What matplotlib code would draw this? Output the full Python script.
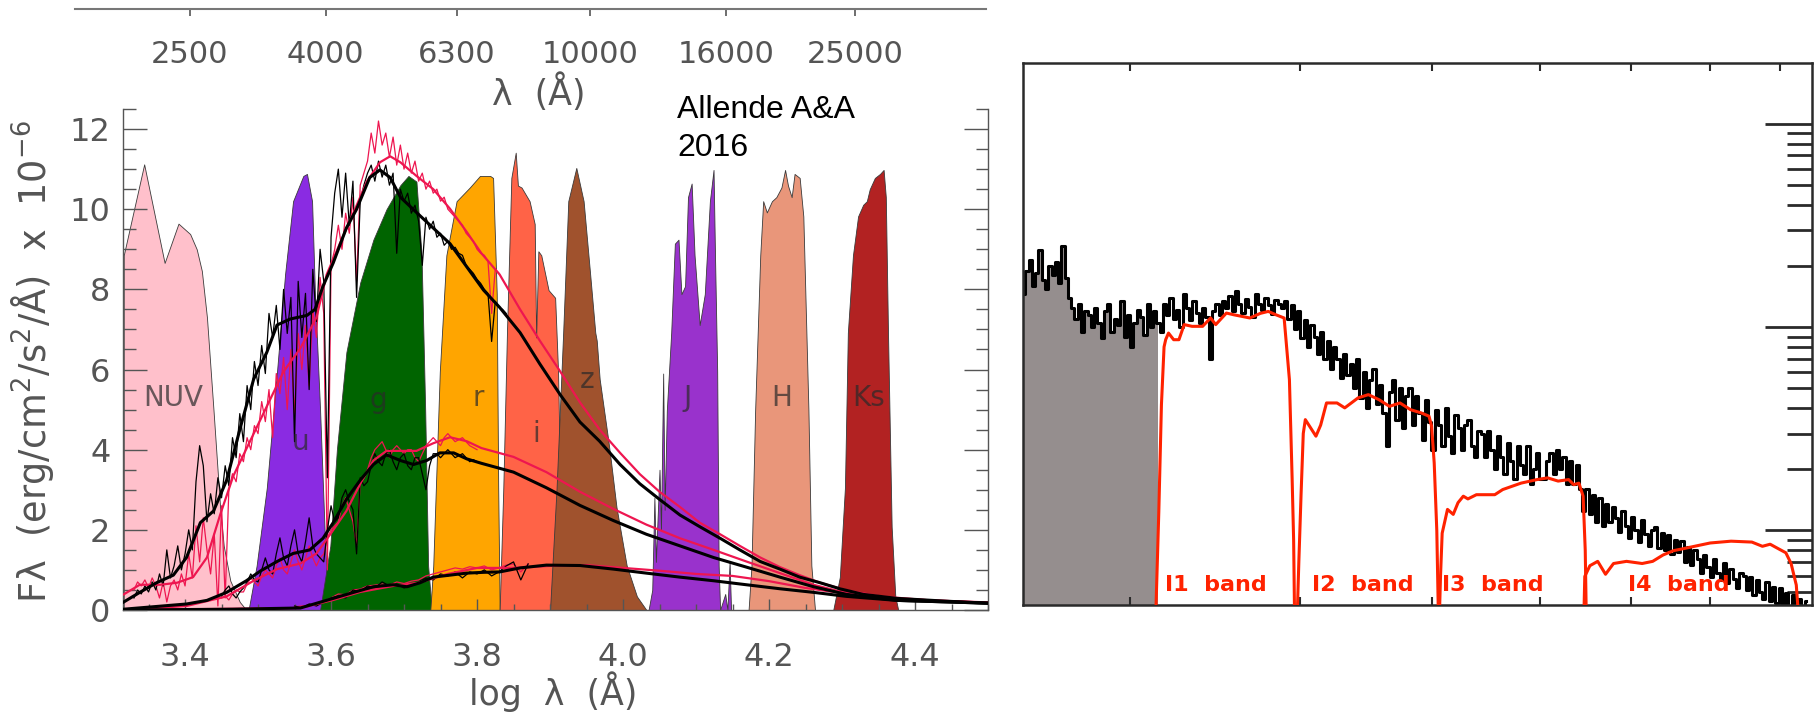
import numpy as np
import matplotlib
matplotlib.use("Agg")
import matplotlib.pyplot as plt
from matplotlib.ticker import (MultipleLocator, FixedLocator, NullLocator,
                               NullFormatter, LogLocator)

W, H = 1819, 713

# ---------------- left panel: broad-band filters (log lambda, scaled response)
NUV_X = [3.316, 3.344, 3.372, 3.391, 3.407, 3.416, 3.423, 3.430, 3.439, 3.448, 3.453, 3.462, 3.475, 3.484]
NUV_Y = [8.85, 11.12, 8.66, 9.64, 9.38, 9.0, 8.46, 7.3, 4.98, 2.57, 1.6, 0.73, 0.2, 0.0]
U_X = [3.487, 3.498, 3.512, 3.526, 3.537, 3.548, 3.562, 3.567, 3.574, 3.578, 3.585, 3.592, 3.596, 3.600]
U_Y = [0.0, 1.1, 3.05, 5.95, 8.37, 10.2, 10.83, 10.88, 10.2, 7.88, 4.98, 1.6, 0.24, 0.0]
G_X = [3.585, 3.599, 3.608, 3.621, 3.640, 3.658, 3.676, 3.695, 3.706, 3.717, 3.724, 3.729, 3.733, 3.738]
G_Y = [0.0, 1.6, 4.0, 6.43, 8.17, 9.24, 10.0, 10.6, 10.83, 10.69, 8.85, 4.98, 1.1, 0.0]
R_X = [3.736, 3.740, 3.749, 3.758, 3.772, 3.790, 3.804, 3.818, 3.822, 3.827, 3.829, 3.831]
R_Y = [0.0, 1.1, 5.95, 8.85, 10.2, 10.54, 10.83, 10.83, 10.78, 7.88, 3.05, 0.0]
I_X = [3.831, 3.836, 3.841, 3.847, 3.853, 3.856, 3.861, 3.872, 3.879, 3.881, 3.884, 3.888, 3.898, 3.907, 3.911, 3.914, 3.916]
I_Y = [0.0, 3.05, 6.92, 10.78, 11.41, 10.59, 10.54, 10.2, 9.63, 6.8, 8.95, 8.85, 7.98, 7.79, 5.95, 3.05, 0.0]
Z_X = [3.900, 3.909, 3.918, 3.925, 3.936, 3.946, 3.955, 3.962, 3.964, 3.968, 3.980, 3.984, 3.991, 4.005, 4.019, 4.032]
Z_Y = [0.0, 3.05, 6.92, 10.2, 11.03, 10.2, 8.37, 6.92, 6.72, 5.76, 4.21, 3.63, 2.57, 1.11, 0.34, 0.0]
J_X = [4.035, 4.040, 4.043, 4.045, 4.050, 4.052, 4.055, 4.057, 4.060, 4.066, 4.071, 4.076, 4.080,
       4.085, 4.089, 4.094, 4.098, 4.105, 4.112, 4.119, 4.124, 4.126, 4.129, 4.131, 4.133,
       4.140, 4.143, 4.146, 4.148, 4.150]
J_Y = [0.0, 0.5, 2.8, 1.2, 3.5, 2.0, 5.9, 2.5, 4.98, 6.92, 9.14, 9.24, 7.88,
       8.08, 10.3, 10.64, 8.85, 7.11, 7.88, 10.2, 10.98, 8.85, 5.95, 1.11, 0.0,
       0.4, 0.0, 1.2, 0.0, 0.0]
H_X = [4.172, 4.176, 4.181, 4.188, 4.192, 4.197, 4.204, 4.210, 4.217, 4.222, 4.226, 4.231, 4.235, 4.242, 4.247, 4.254, 4.258, 4.263]
H_Y = [0.0, 1.11, 4.98, 8.85, 10.2, 9.92, 10.2, 10.3, 10.54, 10.98, 10.59, 10.3, 10.88, 10.78, 9.82, 4.98, 1.11, 0.0]
KS_X = [4.288, 4.297, 4.304, 4.308, 4.315, 4.322, 4.329, 4.334, 4.338, 4.345, 4.352, 4.357, 4.360, 4.363, 4.368, 4.373, 4.377]
KS_Y = [0.0, 0.82, 3.05, 6.92, 8.85, 9.82, 10.11, 10.2, 10.5, 10.78, 10.88, 10.98, 10.3, 6.92, 2.08, 0.34, 0.0]

BAND_NAMES = ["NUV", "u", "g", "r", "i", "z", "J", "H", "Ks"]
BAND_COLORS = ["#FFC0CB", "#8A2BE2", "#006400", "#FFA500", "#FF6347",
               "#A0522D", "#9932CC", "#E9967A", "#B22222"]

# ---------------- left panel: model spectra (smooth) and observed spectra (noisy)
UP_BLACK_X = [3.316, 3.338, 3.361, 3.384, 3.402, 3.421, 3.439, 3.457, 3.475, 3.494, 3.512, 3.526, 3.544,
              3.567, 3.578, 3.589, 3.603, 3.621, 3.635, 3.653, 3.667, 3.681, 3.695, 3.717, 3.740, 3.763,
              3.786, 3.809, 3.831, 3.859, 3.886, 3.914, 3.941, 3.968, 3.996, 4.023, 4.050, 4.078, 4.105,
              4.133, 4.160, 4.188, 4.215, 4.242, 4.270, 4.297, 4.329, 4.375, 4.443, 4.500]
UP_BLACK_Y = [0.2, 0.44, 0.68, 0.87, 1.31, 2.18, 2.47, 3.24, 4.5, 5.76, 6.43, 7.11, 7.26,
              7.35, 7.5, 8.08, 8.66, 9.53, 10.0, 10.79, 10.98, 10.79, 10.3, 9.92, 9.53, 9.14,
              8.56, 7.98, 7.55, 6.92, 6.14, 5.37, 4.69, 4.21, 3.63, 3.15, 2.76, 2.37, 2.08,
              1.79, 1.5, 1.21, 1.02, 0.82, 0.68, 0.53, 0.39, 0.29, 0.22, 0.17]
UP_RED_X = [3.316, 3.338, 3.366, 3.389, 3.411, 3.430, 3.448, 3.466, 3.489, 3.512, 3.535, 3.558, 3.580,
            3.594, 3.612, 3.631, 3.649, 3.667, 3.681, 3.695, 3.717, 3.740, 3.763, 3.786, 3.806, 3.831,
            3.859, 3.886, 3.914, 3.941, 3.968, 3.996, 4.023, 4.050, 4.078, 4.105, 4.133, 4.160, 4.188,
            4.215, 4.242, 4.270, 4.306, 4.352, 4.420, 4.500]
UP_RED_Y = [0.39, 0.63, 0.63, 0.68, 0.82, 1.31, 2.37, 3.34, 4.21, 5.08, 5.95, 6.53, 7.3,
            8.37, 9.14, 9.92, 10.69, 11.17, 11.32, 11.17, 10.83, 10.5, 10.01, 9.43, 8.9, 8.37,
            7.5, 6.72, 5.95, 5.18, 4.5, 3.92, 3.39, 2.95, 2.57, 2.18, 1.89, 1.6, 1.31,
            1.07, 0.87, 0.68, 0.49, 0.34, 0.24, 0.19]
MID_BLACK_X = [3.316, 3.402, 3.430, 3.457, 3.484, 3.503, 3.526, 3.548, 3.571, 3.589, 3.603, 3.621, 3.640,
               3.658, 3.676, 3.695, 3.713, 3.731, 3.749, 3.768, 3.786, 3.806, 3.850, 3.895, 3.941, 3.987,
               4.032, 4.078, 4.124, 4.169, 4.215, 4.261, 4.306, 4.375, 4.500]
MID_BLACK_Y = [0.02, 0.15, 0.24, 0.44, 0.73, 0.97, 1.21, 1.41, 1.5, 1.79, 2.18, 2.76, 3.24,
               3.63, 3.87, 3.73, 3.63, 3.73, 3.92, 3.92, 3.77, 3.66, 3.44, 3.05, 2.61, 2.23,
               1.89, 1.6, 1.31, 1.07, 0.82, 0.58, 0.39, 0.24, 0.17]
MID_RED_X = [3.316, 3.402, 3.457, 3.494, 3.526, 3.558, 3.580, 3.599, 3.621, 3.640, 3.658, 3.676, 3.695,
             3.717, 3.740, 3.763, 3.786, 3.806, 3.850, 3.895, 3.941, 3.987, 4.032, 4.078, 4.124, 4.169,
             4.215, 4.261, 4.306, 4.375, 4.500]
MID_RED_Y = [0.0, 0.1, 0.34, 0.73, 1.02, 1.16, 1.41, 1.89, 2.47, 3.15, 3.73, 3.97, 3.97,
             3.97, 4.16, 4.31, 4.21, 4.04, 3.82, 3.44, 2.95, 2.52, 2.13, 1.79, 1.5, 1.21,
             0.92, 0.63, 0.42, 0.26, 0.18]
LOW_BLACK_X = [3.316, 3.466, 3.558, 3.603, 3.631, 3.658, 3.685, 3.704, 3.722, 3.740, 3.763, 3.786, 3.809,
               3.831, 3.859, 3.895, 3.941, 3.987, 4.032, 4.078, 4.124, 4.169, 4.215, 4.261, 4.306, 4.375, 4.500]
LOW_BLACK_Y = [0.0, 0.02, 0.05, 0.29, 0.44, 0.58, 0.63, 0.58, 0.68, 0.82, 0.87, 0.92, 0.94,
               0.95, 1.05, 1.12, 1.11, 1.02, 0.92, 0.82, 0.73, 0.63, 0.53, 0.44, 0.34, 0.24, 0.17]
LOW_RED_X = [3.316, 3.558, 3.603, 3.640, 3.685, 3.720, 3.760, 3.800, 3.850, 3.900, 3.950, 4.000,
             4.050, 4.100, 4.150, 4.200, 4.250, 4.300, 4.375, 4.500]
LOW_RED_Y = [0.0, 0.05, 0.25, 0.45, 0.6, 0.68, 0.9, 1.05, 1.05, 1.1, 1.12, 1.05,
             0.98, 0.9, 0.85, 0.72, 0.55, 0.42, 0.28, 0.18]

# observed spectra, sampled on a regular log-lambda step from the given start
UP_OBS_START, UP_OBS_STEP = 3.330, 0.005
UP_OBS_BLACK = [0.3, 0.5, 0.4, 0.6, 0.45, 0.7, 0.5, 0.9, 0.6, 1.5, 0.8, 1.1, 1.6, 1.0, 1.4, 2.0, 1.5, 3.2,
                4.1, 3.6, 2.2, 2.9, 2.4, 3.3, 2.8, 3.6, 3.1, 4.3, 3.8, 4.9, 4.2, 5.6, 5.0, 6.2, 5.6, 6.6,
                5.9, 7.4, 6.8, 7.6, 6.5, 8.0, 6.9, 7.8, 4.2, 8.2, 6.8, 7.9, 5.5, 8.5, 7.2, 9.0, 8.2, 3.3,
                9.3, 10.4, 11.0, 9.8, 10.9, 9.6, 10.7, 7.8, 10.2, 10.6, 10.9, 11.1, 10.7, 11.2, 10.8, 11.1,
                10.6, 10.9, 8.9, 10.5, 10.2, 10.4, 9.9, 10.1, 9.7, 8.6, 9.8, 9.5, 9.7, 9.3, 9.4, 9.1,
                9.2, 9.0, 9.05, 8.9, 8.85, 8.6, 8.5, 8.4, 8.25, 8.15, 8.0, 7.9, 6.7, 7.7, 7.55, 7.5, 7.4]
UP_OBS_RED = [0.5, 0.7, 0.6, 0.75, 0.55, 0.8, 0.6, 0.3, 0.7, 0.2, 0.6, 0.75, 0.5, 0.9, 0.6, 1.4, 0.8, 2.1,
              1.2, 2.3, 1.5, 0.9, 1.9, 0.1, 2.6, 0.3, 3.0, 3.4, 3.2, 3.9, 3.7, 4.3, 4.0, 4.6, 4.4, 5.2,
              4.7, 5.5, 4.3, 5.9, 5.4, 6.3, 5.0, 6.5, 4.9, 6.9, 6.0, 7.1, 5.6, 7.5, 6.8, 8.3, 7.4, 1.0,
              8.6, 9.0, 9.6, 9.0, 9.9, 9.4, 10.3, 8.2, 10.6, 10.9, 11.2, 11.9, 11.4, 12.2, 11.6, 11.9,
              11.3, 11.8, 11.1, 11.6, 11.0, 11.4, 10.9, 11.2, 10.7, 10.9, 10.5, 10.7, 10.4, 10.5, 10.2,
              10.3, 10.0, 9.9, 9.8, 9.7, 9.6, 9.4, 9.3, 9.2, 9.0, 8.9, 8.85, 8.7, 7.4, 8.5, 8.4]
MID_OBS_START, MID_OBS_STEP = 3.450, 0.005
MID_OBS_BLACK = [0.35, 0.5, 0.6, 0.4, 0.3, 0.45, 0.55, 0.7, 0.9, 0.75, 0.7, 1.0, 1.3, 1.0, 0.9, 1.4,
                 1.8, 1.3, 1.1, 1.6, 2.0, 1.4, 1.2, 1.7, 2.3, 1.6, 1.4, 1.3, 1.2, 2.0, 2.6, 2.2,
                 2.3, 2.8, 3.0, 2.7, 2.5, 1.4, 3.3, 3.1, 3.2, 3.6, 3.9, 3.7, 3.6, 3.9, 4.0, 3.7,
                 3.5, 3.8, 3.9, 3.6, 3.5, 3.8, 3.8, 3.4, 3.0, 3.6, 3.9, 3.9, 3.8, 3.9, 4.0, 3.9,
                 3.8, 3.85, 3.9, 3.8, 3.7, 3.75, 3.7]
MID_OBS_RED = [0.3, 0.35, 0.25, 0.4, 0.5, 0.45, 0.45, 0.65, 0.8, 0.7, 0.6, 0.85, 1.0, 0.9, 0.8, 1.1,
               1.3, 1.0, 0.9, 1.2, 1.5, 1.2, 1.0, 1.3, 1.6, 1.3, 1.1, 1.3, 1.4, 1.8, 2.0, 2.1,
               2.2, 2.6, 2.8, 2.5, 2.2, 1.6, 3.2, 3.3, 3.5, 3.8, 4.0, 4.1, 4.2, 4.0, 3.8, 4.0,
               4.1, 4.0, 3.9, 4.0, 4.0, 3.8, 3.7, 3.9, 4.1, 4.2, 4.3, 4.2, 4.1, 4.3, 4.4, 4.3,
               4.2, 4.25, 4.3, 4.2, 4.1, 4.05, 4.0]
LOW_OBS_START, LOW_OBS_STEP = 3.550, 0.01
LOW_OBS_BLACK = [0.1, 0.05, 0.15, 0.1, 0.2, 0.3, 0.35, 0.3, 0.5, 0.45, 0.6, 0.55, 0.7, 0.6, 0.65, 0.55,
                 0.6, 0.7, 0.8, 0.75, 0.9, 0.85, 0.95, 0.8, 0.95, 0.9, 1.0, 0.85, 0.95, 1.1, 1.2, 0.75, 1.15]
LOW_OBS_RED = [0.08, 0.1, 0.12, 0.15, 0.22, 0.3, 0.4, 0.38, 0.5, 0.52, 0.6, 0.62, 0.65, 0.62, 0.7, 0.66,
               0.72, 0.75, 0.85, 0.9, 0.95, 1.0, 1.05, 1.02, 1.08, 1.05, 1.1, 1.0, 1.05, 1.12, 1.15, 0.95, 1.15]

TOP_WAVES = [2500, 4000, 6300, 10000, 16000, 25000]

# ---------------- right panel: IR spectrum (log-spaced samples) and IRAC responses (microns)
IR_FLUX = [
    1.45, 1.90, 2.15, 1.60, 1.85, 2.40, 1.70, 1.55, 2.00, 1.80, 2.10, 1.65, 2.50, 1.75, 1.40, 1.25, 1.10, 1.30, 0.95, 1.20,
    1.15, 1.00, 1.25, 1.05, 0.88, 1.20, 1.30, 0.95, 1.10, 1.02, 1.35, 0.90, 1.15, 0.80, 1.05, 1.22, 1.12, 0.92, 1.30, 1.00,
    1.20, 1.05, 0.95, 1.30, 1.15, 1.40, 1.10, 1.22, 1.00, 1.45, 1.25, 1.08, 1.35, 1.18, 1.05, 1.25, 1.12, 0.70, 1.20, 1.30,
    1.15, 1.35, 1.25, 1.42, 1.20, 1.50, 1.30, 1.18, 1.38, 1.26, 1.12, 1.45, 1.30, 1.22, 1.40, 1.28, 1.16, 1.36, 1.30, 1.24,
    1.35, 1.10, 1.28, 0.98, 1.20, 0.88, 1.08, 0.80, 1.02, 0.90, 0.74, 0.95, 0.70, 0.86, 0.62, 0.80, 0.70, 0.56, 0.74, 0.58,
    0.66, 0.50, 0.70, 0.45, 0.60, 0.40, 0.55, 0.62, 0.42, 0.52, 0.38, 0.26, 0.48, 0.55, 0.35, 0.50, 0.32, 0.46, 0.50, 0.33,
    0.46, 0.38, 0.28, 0.44, 0.34, 0.25, 0.39, 0.33, 0.26, 0.40, 0.29, 0.24, 0.37, 0.32, 0.25, 0.33, 0.35, 0.26, 0.23, 0.31,
    0.30, 0.23, 0.31, 0.25, 0.20, 0.29, 0.23, 0.19, 0.27, 0.22, 0.18, 0.26, 0.21, 0.19, 0.26, 0.17, 0.20, 0.24, 0.18, 0.18,
    0.22, 0.24, 0.19, 0.25, 0.20, 0.23, 0.17, 0.22, 0.17, 0.21, 0.16, 0.125, 0.16, 0.12, 0.15, 0.11, 0.145, 0.105, 0.135, 0.11,
    0.13, 0.115, 0.098, 0.125, 0.105, 0.092, 0.117, 0.10, 0.088, 0.113, 0.096, 0.084, 0.10, 0.104, 0.082, 0.097, 0.08, 0.095, 0.077, 0.09,
    0.078, 0.089, 0.07, 0.083, 0.068, 0.08, 0.072, 0.062, 0.076, 0.066, 0.059, 0.072, 0.062, 0.057, 0.069, 0.055, 0.065, 0.058, 0.052, 0.062,
    0.06, 0.051, 0.059, 0.048, 0.057, 0.05, 0.046, 0.056, 0.045, 0.053, 0.044, 0.052, 0.043, 0.049, 0.042, 0.048, 0.042, 0.046, 0.042, 0.045,
]
IR_RANGE = (2.506, 9.41)
SHADE_END = 3.155

I1_WAVE = [3.13, 3.135, 3.149, 3.163, 3.177, 3.186, 3.201, 3.229, 3.258, 3.287, 3.331, 3.391, 3.437,
           3.467, 3.530, 3.577, 3.625, 3.673, 3.739, 3.789, 3.840, 3.892, 3.927, 3.945, 3.955, 3.963]
I1_RESP = [0.03, 0.045, 0.124, 0.416, 0.80, 0.87, 0.936, 0.868, 0.868, 1.03, 1.01, 1.01, 1.11,
           1.03, 1.174, 1.15, 1.13, 1.11, 1.17, 1.196, 1.15, 1.11, 0.552, 0.18, 0.09, 0.03]
I2_WAVE = [3.975, 3.99, 4.005, 4.020, 4.034, 4.07, 4.107, 4.14, 4.181, 4.256, 4.312, 4.41, 4.488,
           4.569, 4.651, 4.734, 4.819, 4.906, 4.972, 4.994, 5.016, 5.038, 5.055]
I2_RESP = [0.03, 0.07, 0.15, 0.30, 0.351, 0.32, 0.291, 0.33, 0.424, 0.424, 0.401, 0.449, 0.466,
           0.44, 0.408, 0.424, 0.393, 0.379, 0.365, 0.326, 0.215, 0.10, 0.03]
I3_WAVE = [5.055, 5.07, 5.084, 5.13, 5.18, 5.222, 5.269, 5.31, 5.387, 5.557, 5.632, 5.809, 5.968,
           6.076, 6.185, 6.296, 6.35, 6.406, 6.452, 6.475, 6.49]
I3_RESP = [0.03, 0.06, 0.097, 0.127, 0.12, 0.137, 0.1475, 0.143, 0.15, 0.15, 0.159, 0.171, 0.178,
           0.1815, 0.175, 0.178, 0.168, 0.171, 0.1475, 0.08, 0.03]
I4_WAVE = [6.455, 6.47, 6.526, 6.613, 6.701, 6.792, 6.943, 7.129, 7.257, 7.386, 7.518, 7.652, 7.788,
           7.997, 8.285, 8.582, 8.736, 8.851, 8.97, 9.089, 9.17, 9.251, 9.31]
I4_RESP = [0.03, 0.0594, 0.0671, 0.0705, 0.0609, 0.0688, 0.0705, 0.0688, 0.0705, 0.0758, 0.0796, 0.0815,
           0.0836, 0.0868, 0.0886, 0.0877, 0.0836, 0.0856, 0.0815, 0.0777, 0.0688, 0.0539, 0.03]
IRAC_LABELS = ["I1  band", "I2  band", "I3  band", "I4  band"]

GREY = "#555555"
CRIMSON = "#EE1650"


def px_box(x0, y0, x1, y1):
    # pixel rectangle (from top-left) -> figure fraction [l, b, w, h]
    return [x0 / W, 1 - y1 / H, (x1 - x0) / W, (y1 - y0) / H]


def obs_x(start, step, vals):
    return start + step * np.arange(len(vals))


fig = plt.figure(figsize=(W / 100, H / 100), dpi=100)

# ===== left panel =====
ax = fig.add_axes(px_box(123, 109, 988, 610))
bands = [(NUV_X, NUV_Y), (U_X, U_Y), (G_X, G_Y), (R_X, R_Y), (I_X, I_Y),
         (Z_X, Z_Y), (J_X, J_Y), (H_X, H_Y), (KS_X, KS_Y)]
for (bx, by), col in zip(bands, BAND_COLORS):
    ax.fill_between(bx, by, 0, facecolor=col, edgecolor="#3a3a3a", lw=0.6, zorder=1)

label_pos = [(3.384, 5.3), (3.558, 4.2), (3.665, 5.25), (3.801, 5.3), (3.881, 4.4),
             (3.951, 5.75), (4.088, 5.3), (4.218, 5.3), (4.336, 5.3)]
for name, (lx, ly) in zip(BAND_NAMES, label_pos):
    ax.text(lx, ly, name, ha="center", va="center", fontsize=20, color="#2a2a2a",
            alpha=0.7, zorder=5)

# observed (noisy)
ax.plot(obs_x(UP_OBS_START, UP_OBS_STEP, UP_OBS_RED), UP_OBS_RED, color=CRIMSON, lw=0.9, zorder=2)
ax.plot(obs_x(UP_OBS_START, UP_OBS_STEP, UP_OBS_BLACK), UP_OBS_BLACK, color="black", lw=0.9, zorder=2)
ax.plot(obs_x(MID_OBS_START, MID_OBS_STEP, MID_OBS_RED), MID_OBS_RED, color=CRIMSON, lw=0.9, zorder=2)
ax.plot(obs_x(MID_OBS_START, MID_OBS_STEP, MID_OBS_BLACK), MID_OBS_BLACK, color="black", lw=0.9, zorder=2)
ax.plot(obs_x(LOW_OBS_START, LOW_OBS_STEP, LOW_OBS_RED), LOW_OBS_RED, color=CRIMSON, lw=0.9, zorder=2)
ax.plot(obs_x(LOW_OBS_START, LOW_OBS_STEP, LOW_OBS_BLACK), LOW_OBS_BLACK, color="black", lw=0.9, zorder=2)

# models (smooth)
for sx, sy in [(UP_RED_X, UP_RED_Y), (MID_RED_X, MID_RED_Y), (LOW_RED_X, LOW_RED_Y)]:
    ax.plot(sx, sy, color=CRIMSON, lw=1.6, zorder=3)
for sx, sy in [(UP_BLACK_X, UP_BLACK_Y), (MID_BLACK_X, MID_BLACK_Y), (LOW_BLACK_X, LOW_BLACK_Y)]:
    ax.plot(sx, sy, color="black", lw=2.2, zorder=3)

ax.set_xlim(3.315, 4.5)
ax.set_ylim(0, 12.5)
ax.xaxis.set_major_locator(MultipleLocator(0.2))
ax.xaxis.set_minor_locator(MultipleLocator(0.05))
ax.yaxis.set_major_locator(MultipleLocator(2))
ax.yaxis.set_minor_locator(MultipleLocator(0.5))
ax.spines["top"].set_visible(False)
for s in ("left", "right", "bottom"):
    ax.spines[s].set_color(GREY)
    ax.spines[s].set_linewidth(1.0)
ax.tick_params(axis="y", which="both", direction="in", left=True, right=True,
               colors=GREY, labelsize=23, pad=9)
ax.tick_params(axis="y", which="major", length=17, width=1.0)
ax.tick_params(axis="y", which="minor", length=9, width=1.0)
ax.tick_params(axis="x", which="both", direction="in", top=False, colors=GREY,
               labelsize=23, pad=23)
ax.tick_params(axis="x", which="major", length=8, width=1.0)
ax.tick_params(axis="x", which="minor", length=4, width=1.0)

fig.text(33 / W, 1 - 362 / H, "Fλ  (erg/cm$^2$/s$^2$/Å)  x  10$^{-6}$",
         rotation=90, ha="center", va="center", fontsize=26.5, color=GREY)
fig.text(553 / W, 1 - 692 / H, "log  λ  (Å)", ha="center", va="center",
         fontsize=25, color=GREY)

# wavelength axis along the top (its own, slightly compressed scale)
ax_top = fig.add_axes(px_box(75, 0, 986, 9))
ax_top.set_xlim(3.225, 4.595)
ax_top.set_ylim(0, 1)
ax_top.patch.set_visible(False)
for s in ("left", "right", "top"):
    ax_top.spines[s].set_visible(False)
ax_top.spines["bottom"].set_color("#777777")
ax_top.spines["bottom"].set_linewidth(1.5)
ax_top.set_yticks([])
ax_top.xaxis.set_major_locator(FixedLocator(np.log10(TOP_WAVES)))
ax_top.set_xticklabels([str(w) for w in TOP_WAVES])
ax_top.tick_params(axis="x", direction="out", length=5, width=1.2, colors=GREY,
                   labelsize=22, pad=17)
fig.text(539 / W, 1 - 93 / H, "λ  (Å)", ha="center", va="center",
         fontsize=25, color=GREY)

fig.text(677 / W, 1 - 110 / H, "Allende A&A", ha="left", va="center",
         fontsize=23, family="Liberation Sans", color="black")
fig.text(677 / W, 1 - 148 / H, "2016", ha="left", va="center",
         fontsize=23, family="Liberation Sans", color="black")

# ===== right panel =====
ax2 = fig.add_axes(px_box(1023, 63, 1812, 605))
ax2.set_xscale("log")
ax2.set_yscale("log")
ir_wave = np.geomspace(IR_RANGE[0], IR_RANGE[1], len(IR_FLUX))
ir_flux = np.array(IR_FLUX)
ax2.fill_between(ir_wave, ir_flux, 1e-3, where=ir_wave <= SHADE_END, step="mid",
                 facecolor="#958E8E", edgecolor="none", zorder=1)
ax2.plot(ir_wave, ir_flux, color="black", lw=2.2, drawstyle="steps-mid", zorder=2)
for wv, rs in [(I1_WAVE, I1_RESP), (I2_WAVE, I2_RESP), (I3_WAVE, I3_RESP), (I4_WAVE, I4_RESP)]:
    ax2.plot(wv, rs, color="#FF2200", lw=2.2, zorder=3)

for txt, xf in zip(IRAC_LABELS, [0.2446, 0.431, 0.5957, 0.8314]):
    ax2.text(xf, 0.037, txt, transform=ax2.transAxes, ha="center", va="center",
             fontsize=16, fontweight="bold", color="#FF2200", zorder=4)

ax2.set_xlim(2.503, 9.5)
ax2.set_ylim(0.043, 19.94)
ax2.xaxis.set_major_locator(FixedLocator([3, 4, 5, 6, 7, 8, 9]))
ax2.xaxis.set_minor_locator(NullLocator())
ax2.xaxis.set_major_formatter(NullFormatter())
ax2.yaxis.set_major_locator(LogLocator(base=10))
ax2.yaxis.set_minor_locator(LogLocator(base=10, subs=np.arange(2, 10)))
ax2.yaxis.set_major_formatter(NullFormatter())
ax2.yaxis.set_minor_formatter(NullFormatter())
for s in ax2.spines.values():
    s.set_color("#2a2a2a")
    s.set_linewidth(1.8)
ax2.tick_params(axis="x", which="major", direction="in", top=True, bottom=True,
                length=6, width=1.5, color="#2a2a2a")
ax2.tick_params(axis="y", which="both", direction="in", left=False, right=True,
                color="#2a2a2a", width=2.0)
ax2.tick_params(axis="y", which="major", length=34)
ax2.tick_params(axis="y", which="minor", length=18)

fig.savefig("out.png", dpi=100)
